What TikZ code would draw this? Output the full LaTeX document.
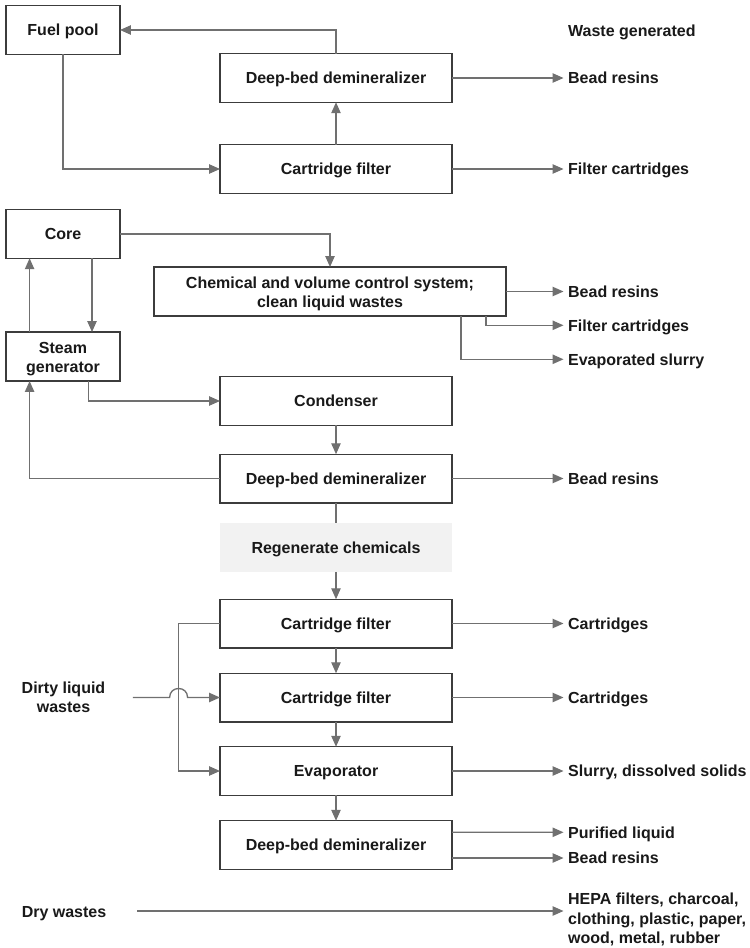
\documentclass[tikz,border=0pt]{standalone}
\usepackage{fontspec}
\setmainfont{Liberation Sans}
\usetikzlibrary{arrows.meta,calc}
\definecolor{linec}{HTML}{707070}
\definecolor{boxc}{HTML}{3C3C3C}
\definecolor{regenc}{HTML}{F2F2F2}
\begin{document}
\begin{tikzpicture}[x=0.75pt,y=-0.75pt,
  every node/.style={font=\bfseries\fontsize{12}{14.4}\selectfont, text=black!90},
  one/.style={text height=8.6pt, text depth=0pt},
  box/.style={draw=boxc, line width=1.1pt, fill=white, inner sep=0pt, outer sep=0pt,
    minimum width=174pt, minimum height=36.4pt, align=center},
  sidebox/.style={box, minimum width=85.5pt},
  conn/.style={draw=linec, line width=1pt},
  arr/.style={conn, -{Triangle[length=8.2pt,width=7pt]}},
  lbl/.style={anchor=west, inner sep=0pt, inner xsep=3.3pt, align=left}]
\fill[white] (0,0) rectangle (749,948);
\useasboundingbox (0,0) rectangle (749,948);
% boxes
\node[sidebox, one] (fuel) at (63,30) {Fuel pool};
\node[box, one] (demA) at (336,78) {Deep-bed demineralizer};
\node[box, one] (cfA) at (336,169) {Cartridge filter};
\node[sidebox, one] (core) at (63,234) {Core};
\node[box, minimum width=264pt, minimum height=36.75pt] (cvcs) at (330,291.5) {\rule{0pt}{12pt}Chemical and volume control system;\\clean liquid wastes};
\node[sidebox, minimum height=36.75pt] (sg) at (63,356.5) {\rule{0pt}{12.2pt}Steam\\generator};
\node[box, one] (cond) at (336,401) {Condenser};
\node[box, one] (demB) at (336,478.5) {Deep-bed demineralizer};
\node[box, one, draw=none, fill=regenc] (regen) at (336,547.5) {Regenerate chemicals};
\node[box, one] (cf1) at (336,623.5) {Cartridge filter};
\node[box, one] (cf2) at (336,697.5) {Cartridge filter};
\node[box, one] (evap) at (336,771) {Evaporator};
\node[box, one] (demC) at (336,845) {Deep-bed demineralizer};
\node[align=center, inner sep=0pt] (dirty) at (63.5,697) {Dirty liquid\\wastes};
\node[one, inner sep=0pt] (dry) at (64,912) {Dry wastes};
% output labels
\node[lbl, one] (wg) at (563.5,31) {Waste generated};
\node[lbl, one] (o1) at (563.5,78) {Bead resins};
\node[lbl, one] (o2) at (563.5,169) {Filter cartridges};
\node[lbl, one] (o3) at (563.5,291.5) {Bead resins};
\node[lbl, one] (o4) at (563.5,325.3) {Filter cartridges};
\node[lbl, one] (o5) at (563.5,359.3) {Evaporated slurry};
\node[lbl, one] (o6) at (563.5,478.5) {Bead resins};
\node[lbl, one] (o7) at (563.5,623.5) {Cartridges};
\node[lbl, one] (o8) at (563.5,697.5) {Cartridges};
\node[lbl, one] (o9) at (563.5,771) {Slurry, dissolved solids};
\node[lbl, one] (o10) at (563.5,832.3) {Purified liquid};
\node[lbl, one] (o11) at (563.5,858) {Bead resins};
\node[lbl] (o12) at (563.5,919.5) {HEPA filters, charcoal,\\clothing, plastic, paper,\\wood, metal, rubber};
% connectors
\draw[arr] (demA.north) |- (fuel.east);
\draw[arr] (fuel.south) |- (cfA.west);
\draw[arr] (cfA.north) -- (demA.south);
\draw[arr] (demA.east) -- (o1.west);
\draw[arr] (cfA.east) -- (o2.west);
\draw[arr] (core.east) -| (cvcs.north);
\draw[arr] (cvcs.east) -- (o3.west);
\draw[arr] ($(cvcs.south east)+(-20,0)$) |- (o4.west);
\draw[arr] ($(cvcs.south east)+(-45,0)$) |- (o5.west);
\draw[arr] ($(core.south)+(29,0)$) -- ($(sg.north)+(29,0)$);
\draw[arr] ($(sg.north)+(-33.4,0)$) -- ($(core.south)+(-33.4,0)$);
\draw[arr] ($(sg.south)+(25.4,0)$) |- (cond.west);
\draw[arr] (cond.south) -- (demB.north);
\draw[arr] (demB.west) -| ($(sg.south)+(-33.4,0)$);
\draw[arr] (demB.east) -- (o6.west);
\draw[conn] (demB.south) -- (regen.north);
\draw[arr] (regen.south) -- (cf1.north);
\coordinate (byp) at (178.6,623.5);
\draw[arr] (cf1.west) -- (byp) |- (evap.west);
\draw[arr] (cf1.south) -- (cf2.north);
\draw[arr] (cf1.east) -- (o7.west);
\coordinate (dl) at (132.8,697.5);
\draw[arr] (dl) -- ($(byp|-dl)+(-9,0)$) .. controls ($(byp|-dl)+(-9,-12)$) and ($(byp|-dl)+(9,-12)$) .. ($(byp|-dl)+(9,0)$) -- (cf2.west);
\draw[arr] (cf2.east) -- (o8.west);
\draw[arr] (cf2.south) -- (evap.north);
\draw[arr] (evap.east) -- (o9.west);
\draw[arr] (evap.south) -- (demC.north);
\draw[arr] ($(demC.east)+(0,-12.7)$) -- (o10.west);
\draw[arr] ($(demC.east)+(0,13)$) -- (o11.west);
\coordinate (dws) at (137,911);
\draw[arr] (dws) -- (dws -| o12.west);
\end{tikzpicture}
\end{document}
